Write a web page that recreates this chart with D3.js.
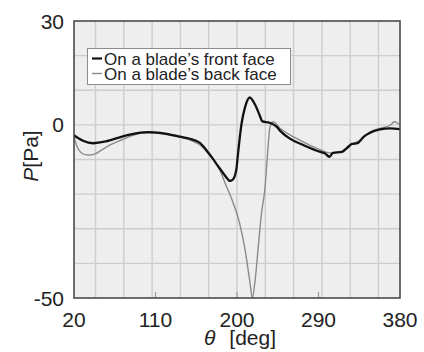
<!DOCTYPE html>
<html>
<head>
<meta charset="utf-8">
<script src="https://cdn.jsdelivr.net/npm/d3@7"></script>
<style>
  html, body { margin: 0; padding: 0; background: #fff; }
  svg { display: block; }
  text { font-family: "Liberation Sans", Arial, Helvetica, sans-serif; fill: #222; }
</style>
</head>
<body>
<svg id="chart" width="424" height="352"></svg>
<script>
// Blade-angle positions (deg) and surface pressure (Pa)
const frontTheta = [20, 30, 41, 55, 74, 90, 102, 115, 126, 137, 148, 159, 170, 181, 189, 192, 195, 197.5, 199.5, 201, 205, 209, 214, 220, 225, 228, 236, 244, 248, 258, 273, 292, 297, 302, 306, 316, 321, 327, 333, 340, 347, 358, 369, 380];
const frontP     = [-3.0, -4.6, -5.3, -4.8, -3.3, -2.4, -2.1, -2.3, -2.8, -3.4, -4.0, -5.2, -8.6, -12.6, -15.4, -16.2, -15.9, -14.8, -12.5, -8.6, 0.3, 5.2, 7.9, 5.8, 2.8, 1.0, 0.6, -0.6, -1.8, -3.9, -5.8, -7.8, -8.2, -9.2, -8.1, -7.8, -6.8, -5.5, -5.3, -3.4, -2.3, -1.3, -1.0, -1.2];

const backTheta = [20, 23, 27, 32, 38, 44, 49, 60, 74, 85, 100, 115, 130, 148, 159, 170, 181, 187, 196, 203, 209, 214, 217, 220, 223.5, 227, 231, 233, 235, 236.5, 240, 247.5, 258.5, 273, 284, 295, 302, 314, 325, 336, 347, 358, 369, 374, 379];
const backP     = [-3.5, -6.0, -7.8, -8.6, -8.7, -8.3, -7.5, -5.8, -4.2, -3.0, -2.3, -2.5, -3.2, -4.4, -5.8, -8.8, -13.0, -16.9, -22.7, -28.5, -36.2, -44.9, -49.9, -44.9, -35.2, -25.6, -18.0, -11.0, -3.9, -0.5, 0.9, -1.0, -2.9, -4.9, -6.3, -7.5, -8.1, -7.8, -5.8, -4.4, -2.0, -1.0, -0.1, 0.9, 0.2];

const xTicks = [20, 110, 200, 290, 380];
const yTicks = [30, 0, -50];
const xGrid = [43.75, 75, 106.25, 137.5, 168.75, 200, 231.25, 262.5, 293.75, 325, 356.25];
const yGrid = [20, 10, 0, -10, -20, -30, -40];
const legendLabels = ["On a blade\u2019s front face", "On a blade\u2019s back face"];

const svg = d3.select("#chart");
const plot = { left: 74, right: 400, top: 21, bottom: 298 };

const x = d3.scaleLinear().domain([20, 380]).range([plot.left, plot.right]);
const y = d3.scaleLinear().domain([-50, 30]).range([plot.bottom, plot.top]);

// plot background
svg.append("rect")
  .attr("x", plot.left).attr("y", plot.top)
  .attr("width", plot.right - plot.left).attr("height", plot.bottom - plot.top)
  .attr("fill", "#eeeeee");

// grid
svg.append("g").selectAll("line").data(xGrid).join("line")
  .attr("x1", d => x(d)).attr("x2", d => x(d))
  .attr("y1", plot.top).attr("y2", plot.bottom)
  .attr("stroke", "#cdcdcd").attr("stroke-width", 1.4);
svg.append("g").selectAll("line").data(yGrid).join("line")
  .attr("y1", d => y(d)).attr("y2", d => y(d))
  .attr("x1", plot.left).attr("x2", plot.right)
  .attr("stroke", "#cdcdcd").attr("stroke-width", 1.4);

// small inner ticks on the bottom edge
svg.append("g").selectAll("line").data(xTicks.slice(1, -1)).join("line")
  .attr("x1", d => x(d)).attr("x2", d => x(d))
  .attr("y1", plot.bottom).attr("y2", plot.bottom - 6)
  .attr("stroke", "#999").attr("stroke-width", 1.2);

// curves
const line = d3.line().curve(d3.curveMonotoneX).x(d => x(d[0])).y(d => y(d[1]));
const back = backTheta.map((t, i) => [t, backP[i]]);
const front = frontTheta.map((t, i) => [t, frontP[i]]);

svg.append("path").datum(back).attr("d", line)
  .attr("fill", "none").attr("stroke", "#8a8a8a").attr("stroke-width", 1.4);
svg.append("path").datum(front).attr("d", line)
  .attr("fill", "none").attr("stroke", "#111").attr("stroke-width", 2.3);

// frame
svg.append("rect")
  .attr("x", plot.left).attr("y", plot.top)
  .attr("width", plot.right - plot.left).attr("height", plot.bottom - plot.top)
  .attr("fill", "none").attr("stroke", "#4a4a4a").attr("stroke-width", 1.6);

// tick labels
svg.append("g").selectAll("text").data(xTicks).join("text")
  .attr("x", d => x(d)).attr("y", 327)
  .attr("text-anchor", "middle").attr("font-size", 21)
  .text(d => d);
svg.append("g").selectAll("text").data(yTicks).join("text")
  .attr("x", 64).attr("y", d => y(d) + 7.5)
  .attr("text-anchor", "end").attr("font-size", 21)
  .text(d => d);

// axis titles
const yt = svg.append("text")
  .attr("transform", "translate(38,156) rotate(-90)")
  .attr("text-anchor", "middle").attr("font-size", 21);
yt.append("tspan").attr("font-style", "italic").text("P");
yt.append("tspan").text("[Pa]");

const xt = svg.append("text")
  .attr("x", 240).attr("y", 345)
  .attr("text-anchor", "middle").attr("font-size", 21);
xt.append("tspan").attr("font-style", "italic").text("\u03b8");
xt.append("tspan").attr("dx", 14).text("[deg]");

// legend
const lg = svg.append("g");
lg.append("rect")
  .attr("x", 87.5).attr("y", 48.5).attr("width", 203).attr("height", 36)
  .attr("fill", "#fff").attr("stroke", "#8c8c8c").attr("stroke-width", 1);
const legendStyles = [{ c: "#111", w: 2.2 }, { c: "#8a8a8a", w: 1.4 }];
legendLabels.forEach((lab, i) => {
  const cy = 58.5 + i * 15;
  lg.append("line")
    .attr("x1", 92).attr("x2", 102).attr("y1", cy).attr("y2", cy)
    .attr("stroke", legendStyles[i].c).attr("stroke-width", legendStyles[i].w);
  lg.append("text")
    .attr("x", 104).attr("y", cy + 6.3)
    .attr("font-size", 17)
    .text(lab);
});
</script>
</body>
</html>
